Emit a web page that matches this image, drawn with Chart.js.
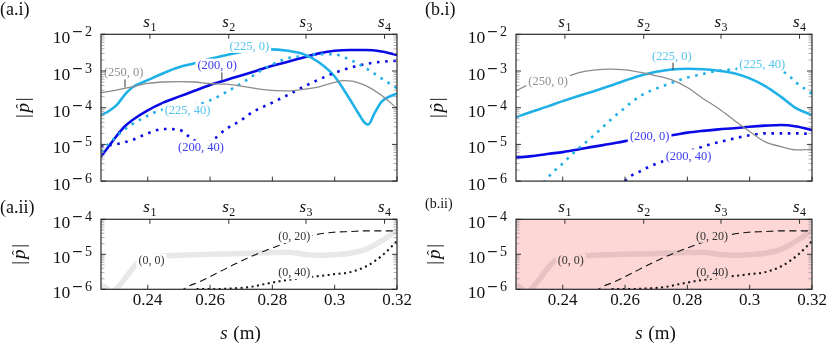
<!DOCTYPE html>
<html>
<head>
<meta charset="utf-8">
<script src="https://cdn.jsdelivr.net/npm/chart.js@4.4.1/dist/chart.umd.min.js"></script>
<style>
  html, body { margin: 0; padding: 0; background: #fff; }
  #fig { position: relative; width: 830px; height: 348px; overflow: hidden; }
  #fig canvas { position: absolute; }
</style>
</head>
<body>
<div id="fig">
  <canvas id="ai" width="415" height="195" style="left:0;top:0"></canvas>
  <canvas id="bi" width="415" height="195" style="left:415px;top:0"></canvas>
  <canvas id="aii" width="415" height="153" style="left:0;top:195px"></canvas>
  <canvas id="bii" width="415" height="153" style="left:415px;top:195px"></canvas>
</div>
<script>
// ---- axes ----
const xTicks = [0.24, 0.26, 0.28, 0.30, 0.32];
const sMarks = [0.2407, 0.2660, 0.2908, 0.3160];
const sMarkNames = ['1', '2', '3', '4'];
const yTicksTop = [1e-2, 1e-3, 1e-4, 1e-5, 1e-6];
const yTicksBottom = [1e-4, 1e-5, 1e-6];

// ---- (a.i) ----
const aiS_250_0 = [0.225,0.230,0.235,0.240,0.245,0.250,0.255,0.260,0.265,0.270,0.275,0.280,0.285,0.290,0.295,0.300,0.303,0.306,0.310,0.315,0.320];
const aiP_250_0 = [2.57e-4,3.02e-4,3.72e-4,4.57e-4,5.01e-4,5.13e-4,5.01e-4,4.57e-4,4.37e-4,3.89e-4,3.31e-4,2.95e-4,2.88e-4,3.16e-4,3.72e-4,4.90e-4,5.50e-4,5.25e-4,3.98e-4,2.19e-4,9.55e-5];
const aiS_225_0 = [0.225,0.2272,0.230,0.2326,0.235,0.240,0.245,0.250,0.255,0.260,0.265,0.270,0.275,0.2786,0.285,0.290,0.295,0.300,0.305,0.3076,0.3095,0.3107,0.3128,0.315,0.3175,0.320];
const aiP_225_0 = [6.31e-5,7.76e-5,1.17e-4,2.24e-4,3.55e-4,5.62e-4,8.71e-4,1.26e-3,1.62e-3,2.14e-3,2.69e-3,3.31e-3,3.80e-3,3.89e-3,3.55e-3,2.88e-3,1.70e-3,7.08e-4,1.62e-4,7.08e-5,3.98e-5,3.47e-5,7.08e-5,1.45e-4,2.00e-4,2.45e-4];
const aiS_200_0 = [0.225,0.2275,0.230,0.2325,0.235,0.240,0.245,0.250,0.255,0.260,0.265,0.270,0.275,0.280,0.285,0.290,0.295,0.300,0.305,0.310,0.315,0.320];
const aiP_200_0 = [4.57e-6,8.91e-6,1.70e-5,3.02e-5,4.57e-5,8.51e-5,1.38e-4,2.00e-4,2.88e-4,4.17e-4,5.62e-4,7.59e-4,1.02e-3,1.38e-3,1.78e-3,2.34e-3,3.02e-3,3.55e-3,3.72e-3,3.72e-3,3.39e-3,2.75e-3];
const aiS_225_40 = [0.225,0.2275,0.230,0.2325,0.235,0.240,0.2436,0.250,0.255,0.260,0.2655,0.2717,0.275,0.280,0.285,0.290,0.295,0.300,0.305,0.310,0.315,0.320];
const aiP_225_40 = [6.31e-6,1.05e-5,1.66e-5,2.51e-5,3.55e-5,6.03e-5,8.32e-5,1.02e-4,1.17e-4,1.58e-4,2.75e-4,5.62e-4,8.71e-4,1.51e-3,2.24e-3,2.57e-3,2.88e-3,2.82e-3,2.00e-3,1.20e-3,6.31e-4,3.39e-4];
const aiS_200_40 = [0.225,0.230,0.235,0.240,0.245,0.250,0.2535,0.2575,0.2615,0.265,0.270,0.2722,0.275,0.280,0.285,0.290,0.295,0.300,0.305,0.310,0.315,0.320];
const aiP_200_40 = [8.91e-6,1.02e-5,1.32e-5,2.00e-5,2.63e-5,2.51e-5,1.58e-5,1.00e-5,1.45e-5,2.57e-5,4.57e-5,6.31e-5,8.71e-5,1.38e-4,2.24e-4,3.72e-4,5.89e-4,8.91e-4,1.23e-3,1.55e-3,1.78e-3,1.91e-3];

// ---- (b.i) ----
const biS = [0.225,0.230,0.235,0.240,0.245,0.250,0.255,0.260,0.265,0.270,0.275,0.280,0.285,0.290,0.295,0.300,0.305,0.310,0.315,0.320];
const biS_250_0 = [0.225,0.2289,0.2353,0.2417,0.2455,0.250,0.255,0.260,0.265,0.270,0.275,0.280,0.285,0.290,0.295,0.300,0.305,0.310,0.315,0.320];
const biP_250_0 = [2.88e-4,4.17e-4,5.75e-4,7.24e-4,9.12e-4,1.05e-3,1.12e-3,1.07e-3,9.12e-4,7.41e-4,5.75e-4,3.55e-4,1.78e-4,9.55e-5,4.57e-5,2.24e-5,1.17e-5,8.71e-6,7.08e-6,7.24e-6];
const biP_225_0 = [5.50e-5,7.76e-5,1.07e-4,1.51e-4,2.09e-4,2.82e-4,3.89e-4,5.50e-4,7.59e-4,9.55e-4,1.10e-3,1.15e-3,1.12e-3,1.02e-3,8.71e-4,6.31e-4,3.89e-4,2.00e-4,9.55e-5,6.31e-5];
const biP_200_0 = [4.37e-6,4.79e-6,5.50e-6,6.17e-6,7.24e-6,8.71e-6,1.02e-5,1.23e-5,1.41e-5,1.58e-5,1.78e-5,2.09e-5,2.34e-5,2.57e-5,2.75e-5,3.02e-5,3.24e-5,3.39e-5,3.09e-5,2.45e-5];
const biS_225_40 = [0.232,0.2342,0.2369,0.2400,0.2431,0.2463,0.2495,0.2527,0.2559,0.2591,0.2623,0.2655,0.2687,0.2722,0.275,0.280,0.285,0.290,0.295,0.300,0.305,0.3115,0.315,0.320];
const biP_225_40 = [6.31e-7,1.00e-6,1.78e-6,3.02e-6,5.50e-6,9.55e-6,1.62e-5,2.88e-5,5.13e-5,8.71e-5,1.45e-4,2.24e-4,3.02e-4,3.89e-4,4.79e-4,6.61e-4,8.32e-4,1.02e-3,1.12e-3,1.26e-3,1.26e-3,8.91e-4,4.79e-4,2.40e-4];
const biS_200_40 = [0.258,0.2599,0.2615,0.2645,0.2677,0.2703,0.2725,0.280,0.2885,0.2905,0.295,0.300,0.305,0.310,0.315,0.320];
const biP_200_40 = [7.08e-7,1.00e-6,1.32e-6,1.78e-6,2.45e-6,3.02e-6,3.55e-6,6.31e-6,1.07e-5,1.17e-5,1.45e-5,1.78e-5,2.00e-5,2.00e-5,2.00e-5,1.91e-5];

// ---- (a.ii) / (b.ii) ----
const iiS_0_0 = [0.225,0.2265,0.2283,0.2298,0.2315,0.2333,0.2350,0.2365,0.2386,0.241,0.245,0.250,0.260,0.270,0.280,0.285,0.290,0.295,0.300,0.305,0.310,0.315,0.320];
const iiP_0_0 = [1.32e-6,1.12e-6,8.32e-7,1.00e-6,1.48e-6,2.40e-6,3.80e-6,5.50e-6,7.59e-6,8.51e-6,8.91e-6,9.33e-6,1.00e-5,1.05e-5,1.12e-5,1.15e-5,1.00e-5,9.33e-6,9.77e-6,1.07e-5,1.38e-5,2.40e-5,4.79e-5];
const iiS_0_20 = [0.2505,0.2515,0.2568,0.2622,0.2675,0.2729,0.2782,0.283,0.288,0.2932,0.2996,0.305,0.310,0.320];
const iiP_0_20 = [7.94e-7,1.00e-6,1.66e-6,2.88e-6,5.01e-6,8.51e-6,1.32e-5,1.91e-5,2.75e-5,3.55e-5,4.27e-5,4.47e-5,4.68e-5,4.68e-5];
const iiS_0_40 = [0.2557,0.262,0.268,0.2729,0.2782,0.283,0.2932,0.2996,0.305,0.3104,0.3157,0.320];
const iiP_0_40 = [1.02e-6,1.02e-6,1.07e-6,1.17e-6,1.45e-6,1.74e-6,2.29e-6,2.69e-6,3.09e-6,4.68e-6,1.00e-5,2.40e-5];

// ---- styles ----
const SERIF = '"Liberation Serif","Times New Roman",serif';
const GREY = '#8c8c8c', CYAN = '#1eb0e6', BLUE = '#0a0ae6';
const DOTS = [2.6, 5.6];
const PINK = '#fdd6d6';

function line(xs, ys, color, width, dash) {
  return {
    data: xs.map((s, i) => ({ x: s, y: ys[i] })),
    borderColor: color,
    borderWidth: width,
    borderDash: dash || [],
    pointRadius: 0,
    fill: false,
    cubicInterpolationMode: 'monotone',
    clip: 0
  };
}

// y label 10^k with a raised exponent
function drawPow(ctx, xr, py, exp) {
  const d = String(Math.abs(exp));
  ctx.textAlign = 'left';
  ctx.textBaseline = 'alphabetic';
  ctx.font = `14px ${SERIF}`;
  const wd = ctx.measureText(d).width;
  ctx.font = '14px "DejaVu Sans"';
  const wm = ctx.measureText('\u2212').width;
  ctx.font = `17.5px ${SERIF}`;
  const wb = ctx.measureText('10').width;
  let x = xr - wd - 1.5 - wm - 1.5 - wb;
  ctx.fillText('10', x, py + 9);
  x += wb + 1.5;
  ctx.font = '14px "DejaVu Sans"';
  ctx.fillText('\u2212', x, py + 2);
  x += wm + 1.5;
  ctx.font = `14px ${SERIF}`;
  ctx.fillText(d, x, py + 2);
}

// s_i above the frame
function drawS(ctx, cx, base, sub) {
  ctx.textAlign = 'left';
  ctx.textBaseline = 'alphabetic';
  ctx.font = `italic 17px ${SERIF}`;
  const ws = ctx.measureText('s').width;
  ctx.font = `12px ${SERIF}`;
  const wn = ctx.measureText(sub).width;
  const x0 = cx - (ws + wn + 0.5) / 2;
  ctx.font = `italic 17px ${SERIF}`;
  ctx.fillText('s', x0, base);
  ctx.font = `12px ${SERIF}`;
  ctx.fillText(sub, x0 + ws + 0.5, base + 4);
}

// |p^| rotated
function drawPhat(ctx, cx, cy) {
  ctx.save();
  ctx.translate(cx, cy);
  ctx.rotate(-Math.PI / 2);
  ctx.textAlign = 'left';
  ctx.textBaseline = 'alphabetic';
  ctx.font = `19px ${SERIF}`;
  const wb = ctx.measureText('|').width;
  ctx.font = `italic 19px ${SERIF}`;
  const wp = ctx.measureText('p').width;
  const gap = 1.8, base = 5;
  let xx = -(wb * 2 + wp + gap * 2) / 2;
  ctx.font = `19px ${SERIF}`;
  ctx.fillText('|', xx, base);
  xx += wb + gap;
  ctx.font = `italic 19px ${SERIF}`;
  ctx.fillText('p', xx, base);
  ctx.font = `15px ${SERIF}`;
  ctx.textAlign = 'center';
  ctx.fillText('\u02c6', xx + wp / 2 + 1.5, base - 3);
  ctx.textAlign = 'left';
  xx += wp + gap;
  ctx.font = `19px ${SERIF}`;
  ctx.fillText('|', xx, base);
  ctx.restore();
}

function figure(cfg) {
  return {
    id: 'figure',
    beforeDatasetsDraw(chart) {
      if (!cfg.pink) return;
      const { ctx, chartArea: a } = chart;
      ctx.save();
      ctx.fillStyle = PINK;
      ctx.fillRect(a.left, a.top, a.right - a.left, a.bottom - a.top);
      ctx.restore();
    },
    afterDatasetsDraw(chart) {
      const { ctx, chartArea: a, scales: { x, y } } = chart;
      ctx.save();
      // pins from labels to curves
      ctx.strokeStyle = '#333';
      ctx.lineWidth = 1;
      cfg.pins.forEach(p => {
        const px = x.getPixelForValue(p.s);
        ctx.beginPath();
        ctx.moveTo(px, y.getPixelForValue(p.p0));
        ctx.lineTo(px, y.getPixelForValue(p.p1));
        ctx.stroke();
      });
      // curve labels on filled boxes
      ctx.textAlign = 'center';
      ctx.textBaseline = 'middle';
      cfg.notes.forEach(n => {
        ctx.font = `${n.size}px ${SERIF}`;
        const px = x.getPixelForValue(n.s), py = y.getPixelForValue(n.p);
        const w = ctx.measureText(n.text).width;
        ctx.fillStyle = cfg.pink ? PINK : '#fff';
        ctx.fillRect(px - w / 2 - 2, py - n.size * 0.55, w + 4, n.size * 1.1);
        ctx.fillStyle = n.color;
        ctx.fillText(n.text, px, py + 0.5);
      });
      // inward ticks
      const lo = Math.round(Math.log10(y.min)), hi = Math.round(Math.log10(y.max));
      ctx.lineWidth = 0.8;
      ctx.strokeStyle = '#9a9a9a';
      for (let k = lo; k < hi; k++) {
        for (let m = 2; m <= 9; m++) {
          const py = y.getPixelForValue(m * Math.pow(10, k));
          ctx.beginPath();
          ctx.moveTo(a.left, py); ctx.lineTo(a.left + 3.5, py);
          ctx.moveTo(a.right, py); ctx.lineTo(a.right - 3.5, py);
          ctx.stroke();
        }
      }
      ctx.lineWidth = 1;
      ctx.strokeStyle = '#333';
      cfg.yTicks.forEach(v => {
        const py = y.getPixelForValue(v);
        ctx.beginPath();
        ctx.moveTo(a.left, py); ctx.lineTo(a.left + 5, py);
        ctx.moveTo(a.right, py); ctx.lineTo(a.right - 5, py);
        ctx.stroke();
      });
      xTicks.forEach(v => {
        const px = x.getPixelForValue(v);
        ctx.beginPath();
        ctx.moveTo(px, a.bottom); ctx.lineTo(px, a.bottom - 4.5);
        ctx.stroke();
      });
      sMarks.forEach(v => {
        const px = x.getPixelForValue(v);
        ctx.beginPath();
        ctx.moveTo(px, a.top); ctx.lineTo(px, a.top + 4.5);
        ctx.stroke();
      });
      ctx.lineWidth = 1.2;
      ctx.strokeStyle = '#2a2a2a';
      ctx.strokeRect(a.left, a.top, a.right - a.left, a.bottom - a.top);
      ctx.restore();
    },
    afterDraw(chart) {
      const { ctx, chartArea: a, scales: { x, y } } = chart;
      ctx.save();
      ctx.fillStyle = '#111';
      // panel tag
      ctx.textAlign = 'left';
      ctx.textBaseline = 'alphabetic';
      ctx.font = `${cfg.tagSize}px ${SERIF}`;
      ctx.fillText(cfg.tag, cfg.tagX, cfg.tagY);
      // y tick labels
      cfg.yTicks.forEach(v => drawPow(ctx, a.left - 9, y.getPixelForValue(v), Math.round(Math.log10(v))));
      // s_i labels
      sMarks.forEach((v, i) => drawS(ctx, x.getPixelForValue(v), a.top - 7.6, sMarkNames[i]));
      // y title
      drawPhat(ctx, cfg.titleX, (a.top + a.bottom) / 2);
      // x title
      if (cfg.xTitle) {
        ctx.textAlign = 'left';
        ctx.font = `italic 19px ${SERIF}`;
        const w1 = ctx.measureText('s').width;
        ctx.font = `19px ${SERIF}`;
        const w2 = ctx.measureText(' (m)').width;
        const x0 = 240 - (w1 + w2) / 2;
        ctx.font = `italic 19px ${SERIF}`;
        ctx.fillText('s', x0, 144);
        ctx.font = `19px ${SERIF}`;
        ctx.fillText(' (m)', x0 + w1 + 1, 144);
      }
      ctx.restore();
    }
  };
}

function panel(id, datasets, cfg) {
  const small = cfg.small;
  const h = small ? 153 : 195;
  const top = small ? 24.3 : 34.3;
  const bottom = small ? 94.3 : 181.1;
  new Chart(document.getElementById(id), {
    type: 'line',
    data: { datasets },
    options: {
      responsive: false,
      animation: false,
      devicePixelRatio: 1,
      events: [],
      layout: { padding: { left: 0, right: 18, top: top, bottom: 0 } },
      plugins: { legend: { display: false }, tooltip: { enabled: false } },
      scales: {
        x: {
          type: 'linear', min: 0.225, max: 0.32,
          grid: { display: false, drawTicks: false },
          border: { display: false },
          ticks: {
            display: small, color: '#111', padding: 1, maxRotation: 0, autoSkip: false,
            font: { family: SERIF, size: 17 },
            callback: v => String(v)
          },
          afterBuildTicks: sc => { sc.ticks = xTicks.map(v => ({ value: v })); },
          afterFit: sc => { sc.height = h - bottom; }
        },
        y: {
          type: 'logarithmic', min: cfg.yTicks[cfg.yTicks.length - 1], max: cfg.yTicks[0],
          grid: { display: false, drawTicks: false },
          border: { display: false },
          ticks: { display: false },
          afterFit: sc => { sc.width = 101; }
        }
      }
    },
    plugins: [figure(cfg)]
  });
}

const noteGrey = '#8f8f8f', noteCyan = '#55c4ef', noteBlue = '#3b3bef', noteBlack = '#333';

panel('ai', [
  line(aiS_250_0, aiP_250_0, GREY, 1.3),
  line(aiS_225_40, aiP_225_40, CYAN, 2.6, DOTS),
  line(aiS_200_40, aiP_200_40, BLUE, 2.6, DOTS),
  line(aiS_225_0, aiP_225_0, CYAN, 2.6),
  line(aiS_200_0, aiP_200_0, BLUE, 2.6)
], {
  small: false, yTicks: yTicksTop, tag: '(a.i)', tagSize: 18, tagX: 0, tagY: 15, titleX: 23.5,
  notes: [
    { text: '(250, 0)', s: 0.2323, p: 9.1e-4, color: noteGrey, size: 12.5 },
    { text: '(225, 0)', s: 0.2726, p: 4.8e-3, color: noteCyan, size: 12.5 },
    { text: '(200, 0)', s: 0.2623, p: 1.41e-3, color: noteBlue, size: 12.5 },
    { text: '(225, 40)', s: 0.2528, p: 8.3e-5, color: noteCyan, size: 12.5 },
    { text: '(200, 40)', s: 0.2571, p: 8.3e-6, color: noteBlue, size: 12.5 }
  ],
  pins: [
    { s: 0.2327, p0: 6.0e-4, p1: 3.6e-4 },
    { s: 0.2638, p0: 9.5e-4, p1: 5.6e-4 }
  ]
});

panel('bi', [
  line(biS_250_0, biP_250_0, GREY, 1.3),
  line(biS_225_40, biP_225_40, CYAN, 2.6, DOTS),
  line(biS_200_40, biP_200_40, BLUE, 2.6, DOTS),
  line(biS, biP_225_0, CYAN, 2.6),
  line(biS, biP_200_0, BLUE, 2.6)
], {
  small: false, yTicks: yTicksTop, tag: '(b.i)', tagSize: 18, tagX: 10, tagY: 15, titleX: 22.5,
  notes: [
    { text: '(250, 0)', s: 0.2353, p: 5.4e-4, color: noteGrey, size: 12.5 },
    { text: '(225, 0)', s: 0.2750, p: 2.6e-3, color: noteCyan, size: 12.5 },
    { text: '(225, 40)', s: 0.3040, p: 1.5e-3, color: noteCyan, size: 12.5 },
    { text: '(200, 0)', s: 0.2679, p: 1.7e-5, color: noteBlue, size: 12.5 },
    { text: '(200, 40)', s: 0.2804, p: 4.8e-6, color: noteBlue, size: 12.5 }
  ],
  pins: [
    { s: 0.2754, p0: 1.78e-3, p1: 1.07e-3 }
  ]
});

const bottomLines = () => [
  line(iiS_0_0, iiP_0_0, 'rgba(0,0,0,0.09)', 5.5),
  line(iiS_0_20, iiP_0_20, '#111', 1.1, [7, 4.5]),
  line(iiS_0_40, iiP_0_40, '#111', 2, [2, 3.5])
];

panel('aii', bottomLines(), {
  small: true, yTicks: yTicksBottom, tag: '(a.ii)', tagSize: 18, tagX: 0, tagY: 18, titleX: 20, xTitle: true,
  notes: [
    { text: '(0, 0)', s: 0.2412, p: 6.6e-6, color: noteBlack, size: 12 },
    { text: '(0, 20)', s: 0.2870, p: 3.2e-5, color: noteBlack, size: 12 },
    { text: '(0, 40)', s: 0.2870, p: 3.0e-6, color: noteBlack, size: 12 }
  ],
  pins: []
});

panel('bii', bottomLines(), {
  small: true, yTicks: yTicksBottom, tag: '(b.ii)', tagSize: 14, tagX: 10, tagY: 13, titleX: 20, xTitle: true, pink: true,
  notes: [
    { text: '(0, 0)', s: 0.2426, p: 6.9e-6, color: noteBlack, size: 12 },
    { text: '(0, 20)', s: 0.2879, p: 3.3e-5, color: noteBlack, size: 12 },
    { text: '(0, 40)', s: 0.2880, p: 3.1e-6, color: noteBlack, size: 12 }
  ],
  pins: []
});
</script>
</body>
</html>
